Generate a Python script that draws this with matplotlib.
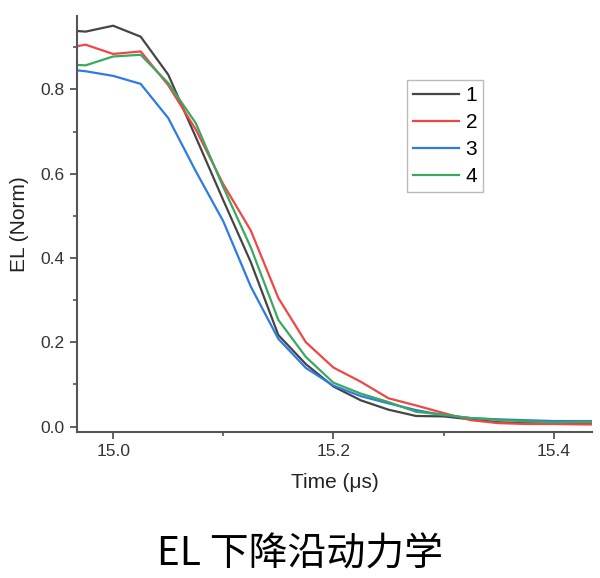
import matplotlib.pyplot as plt
from matplotlib.ticker import MultipleLocator

plt.rcParams['font.family'] = ['Liberation Sans', 'DejaVu Sans']

t = [14.95, 14.975, 15.0, 15.025, 15.05, 15.075, 15.1, 15.125, 15.15, 15.175,
     15.2, 15.225, 15.25, 15.275, 15.3, 15.325, 15.35, 15.375, 15.4, 15.425, 15.45]

el_1 = [0.942, 0.937, 0.951, 0.925, 0.835, 0.687, 0.537, 0.39, 0.217, 0.148,
        0.095, 0.062, 0.04, 0.025, 0.024, 0.017, 0.01, 0.008, 0.008, 0.009, 0.009]
el_2 = [0.895, 0.906, 0.884, 0.89, 0.81, 0.705, 0.575, 0.465, 0.305, 0.2,
        0.14, 0.106, 0.067, 0.05, 0.032, 0.015, 0.008, 0.006, 0.006, 0.005, 0.005]
el_3 = [0.85, 0.843, 0.832, 0.813, 0.732, 0.606, 0.487, 0.332, 0.208, 0.139,
        0.097, 0.072, 0.055, 0.039, 0.027, 0.02, 0.017, 0.015, 0.013, 0.013, 0.013]
el_4 = [0.86, 0.857, 0.878, 0.882, 0.815, 0.72, 0.568, 0.425, 0.253, 0.165,
        0.104, 0.078, 0.058, 0.035, 0.028, 0.02, 0.016, 0.012, 0.01, 0.011, 0.011]

labels = ['1', '2', '3', '4']
colors = ['#454545', '#f04646', '#2f7be4', '#3aa95f']

fig = plt.figure(figsize=(6.0, 5.78), dpi=100)
ax = fig.add_axes([0.128, 0.2526, 0.859, 0.7204])

for y, lab, c in zip([el_1, el_2, el_3, el_4], labels, colors):
    ax.plot(t, y, color=c, lw=1.6, label=lab)

ax.set_xlim(14.967, 15.435)
ax.set_ylim(-0.013, 0.975)
ax.xaxis.set_major_locator(MultipleLocator(0.2))
ax.xaxis.set_minor_locator(MultipleLocator(0.1))
ax.yaxis.set_major_locator(MultipleLocator(0.2))
ax.yaxis.set_minor_locator(MultipleLocator(0.1))
ax.xaxis.set_major_formatter(plt.FuncFormatter(lambda v, p: f'{v:.1f}'))
ax.yaxis.set_major_formatter(plt.FuncFormatter(lambda v, p: f'{v:.1f}'))

for s in ['top', 'right']:
    ax.spines[s].set_visible(False)
for s in ['left', 'bottom']:
    ax.spines[s].set_color('#555555')
    ax.spines[s].set_linewidth(1.5)
ax.tick_params(which='major', direction='out', length=5, width=1.3,
               color='#555555', labelsize=12.5, labelcolor='#333333', pad=4)
ax.tick_params(which='minor', direction='out', length=3, width=1.2, color='#555555')

ax.set_xlabel('Time (\u03bcs)', fontsize=15, color='#222222', labelpad=10)
ax.set_ylabel('EL (Norm)', fontsize=15, color='#222222', labelpad=8)

leg = ax.legend(loc='upper left', bbox_to_anchor=(0.641, 0.845), fontsize=15,
                frameon=True, fancybox=False, handlelength=2.2, handletextpad=0.3,
                labelspacing=0.38, borderpad=0.3, borderaxespad=0)
leg.get_frame().set_edgecolor('#aaaaaa')
leg.get_frame().set_linewidth(1.0)

fig.text(0.5, 0.04, 'EL 下降沿动力学', ha='center', va='center', fontsize=28,
         weight='light', family=['Noto Sans CJK SC', 'DejaVu Sans'], color='black')

fig.savefig('out.png', dpi=100, facecolor='white')
